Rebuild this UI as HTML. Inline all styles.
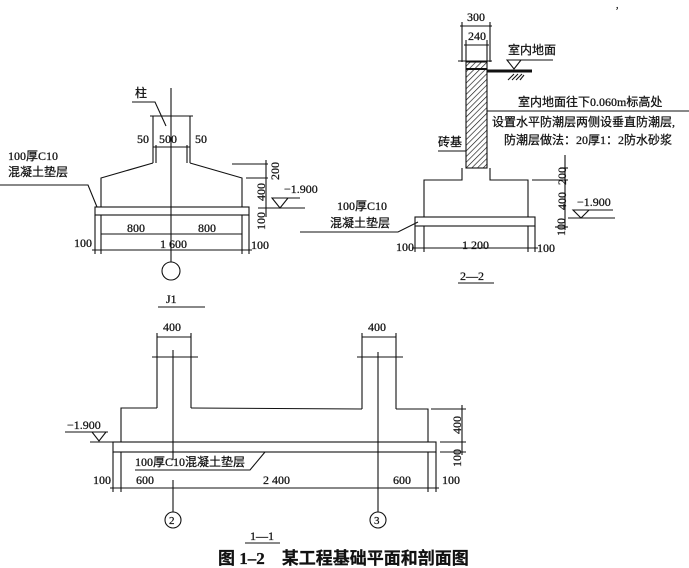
<!DOCTYPE html>
<html><head><meta charset="utf-8"><style>
html,body{margin:0;padding:0;background:#fff}
svg{display:block}
text{font-family:"Liberation Serif","Noto Serif CJK SC","Noto Sans CJK SC",serif;fill:#111;font-size:12px;stroke:#111;stroke-width:0.25}
.c{font-family:"Liberation Serif","Noto Sans CJK SC",sans-serif}
</style></head><body>
<svg width="689" height="568" viewBox="0 0 689 568" xmlns="http://www.w3.org/2000/svg">
<defs>
<pattern id="h" width="4" height="4" patternUnits="userSpaceOnUse" patternTransform="rotate(45)">
<line x1="0" y1="0" x2="0" y2="4" stroke="#111" stroke-width="1.3"/>
</pattern>
</defs>
<g stroke="#111" stroke-width="1.1" fill="none">
<!-- ===== J1 ===== -->
<line x1="171" y1="88" x2="171" y2="262"/>
<polyline points="132,102 155,102 166,126"/>
<line x1="153" y1="116" x2="153" y2="163"/>
<line x1="190" y1="116" x2="190" y2="163"/>
<line x1="150" y1="116" x2="193" y2="116"/>
<line x1="156" y1="145" x2="156" y2="163"/>
<line x1="187" y1="145" x2="187" y2="163"/>
<line x1="153" y1="147" x2="190" y2="147"/>
<polyline points="153,163 101,178 101,207"/>
<polyline points="190,163 242,178 242,207"/>
<line x1="101" y1="207" x2="242" y2="207"/>
<rect x="95" y="207" width="154" height="8"/>
<polyline points="0,185 88,185 97,207"/>
<line x1="232" y1="164" x2="268" y2="164"/>
<line x1="246" y1="178" x2="268" y2="178"/>
<line x1="266" y1="160" x2="266" y2="217"/>
<line x1="258" y1="208" x2="305" y2="208"/>
<polygon points="272,198 288,198 280,208"/>
<line x1="280" y1="198" x2="300" y2="198"/>
<line x1="101" y1="215" x2="101" y2="254"/>
<line x1="242" y1="215" x2="242" y2="254"/>
<line x1="95" y1="215" x2="95" y2="254"/>
<line x1="249" y1="215" x2="249" y2="254"/>
<line x1="101" y1="234" x2="242" y2="234"/>
<line x1="92" y1="250" x2="252" y2="250"/>
<circle cx="171" cy="271" r="9"/>
<line x1="158" y1="307" x2="205" y2="307"/>
<!-- ===== 2-2 ===== -->
<line x1="462" y1="22" x2="462" y2="62"/>
<line x1="490" y1="22" x2="490" y2="62"/>
<line x1="466" y1="40" x2="466" y2="62"/>
<line x1="487" y1="40" x2="487" y2="62"/>
<line x1="460" y1="26" x2="492" y2="26"/>
<line x1="464" y1="45" x2="489" y2="45"/>
<line x1="458" y1="61" x2="492" y2="61"/>
<rect x="466" y="62" width="21" height="106" fill="url(#h)"/>
<line x1="466" y1="69" x2="487" y2="69" stroke-width="2"/>
<line x1="487" y1="71" x2="532" y2="71" stroke-width="3"/>
<polygon points="507,60 521,60 514,69"/>
<line x1="507" y1="60" x2="553" y2="60"/>
<line x1="508" y1="80" x2="514" y2="74"/><line x1="512" y1="80" x2="518" y2="74"/><line x1="516" y1="80" x2="522" y2="74"/><line x1="520" y1="80" x2="524" y2="75"/>
<line x1="487" y1="111" x2="689" y2="111"/>
<line x1="438" y1="151" x2="466" y2="151"/>
<polyline points="462,168 462,180 424,180 424,217"/>
<polyline points="490,168 490,180 528,180 528,217"/>
<line x1="424" y1="217" x2="528" y2="217"/>
<rect x="415" y="217" width="120" height="9"/>
<polyline points="300,232 398,232 418,222"/>
<line x1="532" y1="180" x2="568" y2="180"/>
<line x1="565" y1="155" x2="565" y2="230"/>
<line x1="555" y1="227" x2="568" y2="227"/>
<line x1="560" y1="168" x2="568" y2="168"/>
<line x1="568" y1="218" x2="615" y2="218"/>
<polygon points="573,210 589,210 581,218"/>
<line x1="581" y1="210" x2="613" y2="210"/>
<line x1="415" y1="226" x2="415" y2="252"/>
<line x1="424" y1="226" x2="424" y2="252"/>
<line x1="528" y1="226" x2="528" y2="252"/>
<line x1="535" y1="226" x2="535" y2="252"/>
<line x1="412" y1="248" x2="538" y2="248"/>
<line x1="458" y1="283" x2="494" y2="283"/>
<!-- ===== 1-1 ===== -->
<line x1="157" y1="333" x2="157" y2="408"/>
<line x1="191" y1="333" x2="191" y2="408"/>
<line x1="157" y1="337" x2="191" y2="337"/>
<line x1="152" y1="357" x2="198" y2="357"/>
<line x1="362" y1="333" x2="362" y2="409"/>
<line x1="396" y1="333" x2="396" y2="409"/>
<line x1="362" y1="337" x2="396" y2="337"/>
<line x1="357" y1="357" x2="403" y2="357"/>
<line x1="173" y1="350" x2="173" y2="460"/>
<line x1="173" y1="480" x2="173" y2="512"/>
<line x1="378" y1="352" x2="378" y2="512"/>
<polyline points="157,408 121,408 121,442 428,442 428,409 396,409"/>
<line x1="191" y1="408" x2="362" y2="409"/>
<rect x="113" y="442" width="323" height="10"/>
<polyline points="135,470 250,470 265,452"/>
<line x1="431" y1="409" x2="466" y2="409"/>
<line x1="462" y1="405" x2="462" y2="455"/>
<line x1="440" y1="442" x2="466" y2="442"/>
<line x1="440" y1="452" x2="466" y2="452"/>
<line x1="65" y1="432" x2="108" y2="432"/>
<polygon points="92,432 106,432 99,441"/>
<line x1="90" y1="442" x2="113" y2="442"/>
<line x1="113" y1="452" x2="113" y2="492"/>
<line x1="121" y1="452" x2="121" y2="492"/>
<line x1="428" y1="452" x2="428" y2="492"/>
<line x1="436" y1="452" x2="436" y2="492"/>
<line x1="110" y1="488" x2="439" y2="488"/>
<circle cx="173" cy="520" r="8"/>
<circle cx="378" cy="520" r="8"/>
<line x1="245" y1="543" x2="280" y2="543"/>
</g>
<!-- J1 text -->
<text x="135" y="97" class="c">柱</text>
<text x="137" y="143">50</text>
<text x="159" y="143">500</text>
<text x="195" y="143">50</text>
<text x="8" y="160" class="c">100厚C10</text>
<text x="8" y="176" class="c">混凝土垫层</text>
<text x="284" y="193">−1.900</text>
<text x="127" y="232">800</text>
<text x="198" y="232">800</text>
<text x="74" y="247">100</text>
<text x="160" y="248">1 600</text>
<text x="251" y="249">100</text>
<text x="166" y="303">J1</text>
<text transform="translate(279,171) rotate(-90)" x="-9" y="0">200</text>
<text transform="translate(265,192) rotate(-90)" x="-9" y="0">400</text>
<text transform="translate(265,221) rotate(-90)" x="-9" y="0">100</text>
<!-- 2-2 text -->
<text x="467" y="21">300</text>
<text x="468" y="40">240</text>
<text x="508" y="54" class="c">室内地面</text>
<text x="518" y="106" class="c">室内地面往下0.060m标高处</text>
<text x="492" y="126" class="c">设置水平防潮层两侧设垂直防潮层,</text>
<text x="504" y="144" class="c">防潮层做法：20厚1：2防水砂浆</text>
<text x="438" y="146" class="c">砖基</text>
<text x="337" y="210" class="c">100厚C10</text>
<text x="330" y="227" class="c">混凝土垫层</text>
<text x="577" y="206">−1.900</text>
<text x="396" y="251">100</text>
<text x="462" y="249">1 200</text>
<text x="537" y="252">100</text>
<text transform="translate(566,176) rotate(-90)" x="-9" y="0">200</text>
<text transform="translate(566,201) rotate(-90)" x="-9" y="0">400</text>
<text transform="translate(565,227) rotate(-90)" x="-9" y="0">100</text>
<text x="460" y="280">2—2</text>
<text x="616" y="8" style="font-size:10px">,</text>
<!-- 1-1 text -->
<text x="163" y="331">400</text>
<text x="368" y="331">400</text>
<text x="67" y="429">−1.900</text>
<text x="135" y="466" class="c">100厚C10混凝土垫层</text>
<text x="93" y="484">100</text>
<text x="136" y="484">600</text>
<text x="263" y="484">2 400</text>
<text x="393" y="484">600</text>
<text x="442" y="484">100</text>
<text transform="translate(461,425) rotate(-90)" x="-9" y="0">400</text>
<text transform="translate(461,458) rotate(-90)" x="-9" y="0">100</text>
<text x="169" y="524" style="font-size:11px">2</text>
<text x="374" y="524" style="font-size:11px">3</text>
<text x="250" y="540">1—1</text>
<text x="218" y="564" class="c" style="font-size:17px;font-weight:bold">图 1–2　某工程基础平面和剖面图</text>
</svg>
</body></html>
